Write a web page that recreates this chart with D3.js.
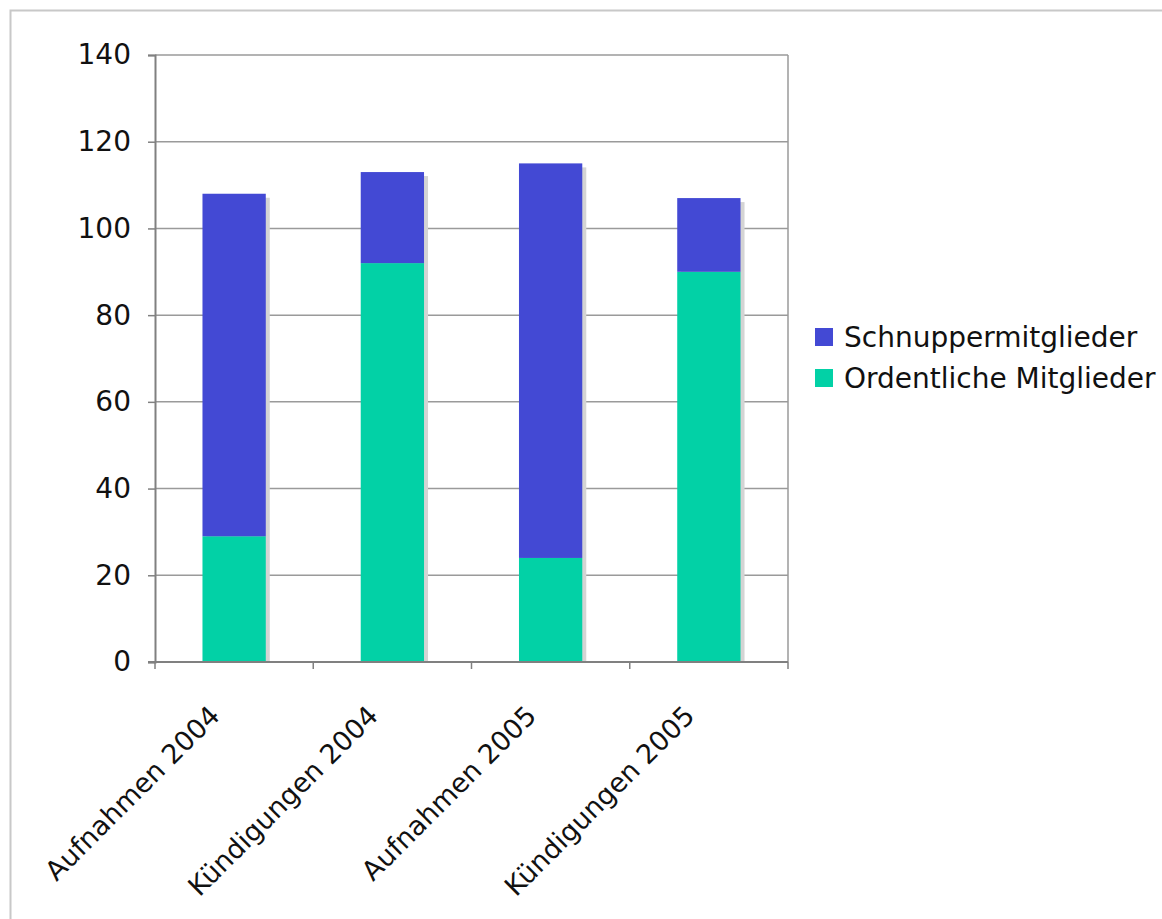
<!DOCTYPE html>
<html><head><meta charset="utf-8">
<script src="https://cdn.jsdelivr.net/npm/d3@7"></script>
<style>body{margin:0;background:#fff;} svg{display:block;}</style>
</head><body>
<svg id="c" width="1162" height="919"></svg>
<script>
const categories = ["Aufnahmen 2004", "Kündigungen 2004", "Aufnahmen 2005", "Kündigungen 2005"];
const ordentliche = [29, 92, 24, 90];
const schnupper = [79, 21, 91, 17];
const seriesNames = ["Schnuppermitglieder", "Ordentliche Mitglieder"];
const seriesColors = ["#4349d4", "#02d1a6"];
const yTicks = [0, 20, 40, 60, 80, 100, 120, 140];

const svg = d3.select("#c");
const font = "DejaVu Sans, Verdana, sans-serif";
const fs = 28;
svg.append("rect").attr("x", 10.5).attr("y", 10.5).attr("width", 1162).attr("height", 919)
  .attr("fill", "none").attr("stroke", "#c8c8c8").attr("stroke-width", 2);

const L = 155, T = 55, R = 788, B = 662;
const x = d3.scaleBand().domain(categories).range([L, R]).paddingInner(0.6).paddingOuter(0.3);
const xb = d3.scaleBand().domain(categories).range([L, R]);
const y = d3.scaleLinear().domain([0, 140]).range([B, T]);

const data = categories.map((c, i) => ({c, o: ordentliche[i], s: schnupper[i]}));
const stack = d3.stack().keys(["o", "s"])(data);

const g = svg.append("g");
g.selectAll("line.grid").data(yTicks.filter(d => d > 0)).join("line")
  .attr("x1", L).attr("x2", R).attr("y1", d => y(d)).attr("y2", d => y(d))
  .attr("stroke", "#9a9a9a").attr("stroke-width", 1.5);
g.append("line").attr("x1", R).attr("x2", R).attr("y1", T).attr("y2", B).attr("stroke", "#9a9a9a").attr("stroke-width", 1.5);

g.selectAll("rect.shadow").data(data).join("rect")
  .attr("x", d => x(d.c) + 4).attr("y", d => y(d.o + d.s) + 4)
  .attr("width", x.bandwidth()).attr("height", d => B - y(d.o + d.s) - 4)
  .attr("fill", "#d4d4d4");

const colors = {o: seriesColors[1], s: seriesColors[0]};
stack.forEach(layer => {
  g.selectAll(null).data(layer).join("rect")
    .attr("x", d => x(d.data.c)).attr("y", d => y(d[1]))
    .attr("width", x.bandwidth()).attr("height", d => y(d[0]) - y(d[1]))
    .attr("fill", colors[layer.key]);
});

const ya = d3.axisLeft(y).tickValues(yTicks).tickSize(7).tickPadding(17);
const yg = svg.append("g").attr("transform", `translate(${L},0)`).call(ya);
yg.select(".domain").attr("stroke", "#808080").attr("stroke-width", 2);
yg.selectAll(".tick line").attr("stroke", "#808080").attr("stroke-width", 1.5);
yg.selectAll("text").attr("font-family", font).attr("font-size", fs).attr("fill", "#111");

const xg = svg.append("g").attr("transform", `translate(0,${B})`);
xg.append("line").attr("x1", L - 7).attr("x2", R).attr("stroke", "#808080").attr("stroke-width", 2);
xg.selectAll("line.t").data(d3.range(categories.length + 1)).join("line")
  .attr("x1", i => L + i * xb.step()).attr("x2", i => L + i * xb.step())
  .attr("y1", 0).attr("y2", 7).attr("stroke", "#808080").attr("stroke-width", 1.5);
xg.selectAll("text").data(categories).join("text")
  .attr("transform", d => `translate(${xb(d) + xb.bandwidth()/2 - 26},${42}) rotate(-45)`)
  .attr("text-anchor", "end").attr("dy", "0.7em")
  .attr("font-family", font).attr("font-size", 27).attr("fill", "#111")
  .text(d => d);

const lg = svg.append("g").attr("transform", "translate(815,328)");
seriesNames.forEach((n, i) => {
  lg.append("rect").attr("x", 0).attr("y", i * 41).attr("width", 18).attr("height", 18).attr("fill", seriesColors[i]);
  lg.append("text").attr("x", 29).attr("y", i * 41 + 9).attr("dy", "0.36em")
    .attr("font-family", font).attr("font-size", fs).attr("fill", "#111").text(n);
});
</script>
</body></html>
